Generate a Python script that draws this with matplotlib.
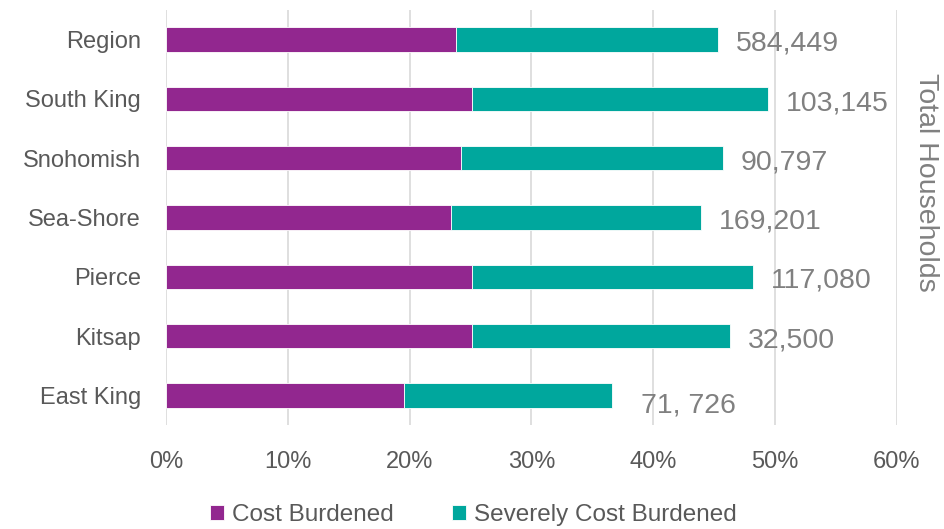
import numpy as np
import matplotlib.pyplot as plt
from matplotlib.ticker import PercentFormatter

# data
regions = ['Region', 'South King', 'Snohomish', 'Sea-Shore', 'Pierce', 'Kitsap', 'East King']
cost_burdened = [23.8, 25.1, 24.2, 23.4, 25.1, 25.1, 19.5]
severely_burdened = [21.5, 24.3, 21.5, 20.5, 23.1, 21.2, 17.1]
households = ['584,449', '103,145', '90,797', '169,201', '117,080', '32,500', '71, 726']

PURPLE = '#92278F'
TEAL = '#00A79D'

plt.rcParams['font.family'] = ['Liberation Sans', 'DejaVu Sans']

fig = plt.figure(figsize=(9.45, 5.29), dpi=100)
ax = fig.add_axes([166 / 945, 1 - 425 / 529, (897 - 166) / 945, 415 / 529])

y = np.arange(len(regions))
ax.barh(y, cost_burdened, height=0.41, color=PURPLE, edgecolor='white', linewidth=0.6,
        label='Cost Burdened', zorder=3)
ax.barh(y, severely_burdened, left=cost_burdened, height=0.41, color=TEAL, edgecolor='white',
        linewidth=0.6, label='Severely Cost Burdened', zorder=3)

totals = np.array(cost_burdened) + np.array(severely_burdened)
for i, (t, lab) in enumerate(zip(totals, households)):
    dx, dy = (13, -3) if i < 6 else (21, -7)
    ax.annotate(lab, (t, i), xytext=(dx, dy), textcoords='offset points',
                ha='left', va='center', fontsize=20.5, color='#808080')

ax.set_xlim(0, 60)
ax.set_ylim(len(regions) - 0.5, -0.5)
ax.set_xticks(np.arange(0, 61, 10))
ax.xaxis.set_major_formatter(PercentFormatter(decimals=0))
ax.set_yticks(y)
ax.set_yticklabels(regions)
ax.tick_params(axis='both', length=0, labelsize=17, colors='#595959')
ax.tick_params(axis='y', pad=18)
ax.tick_params(axis='x', pad=19)
ax.grid(axis='x', color='#D9D9D9', linewidth=1.2, zorder=0)
for s in ax.spines.values():
    s.set_visible(False)

fig.text(926 / 945, 1 - 182 / 529, 'Total Households', rotation=270, ha='center', va='center',
         fontsize=20.5, color='#808080')

ax.legend(loc='center', bbox_to_anchor=(0.421, -0.217), ncol=2, frameon=False,
          fontsize=17.5, handlelength=0.55, handleheight=0.55, handletextpad=0.35, columnspacing=2.4,
          labelcolor='#595959')

fig.savefig('out.png', dpi=100)
